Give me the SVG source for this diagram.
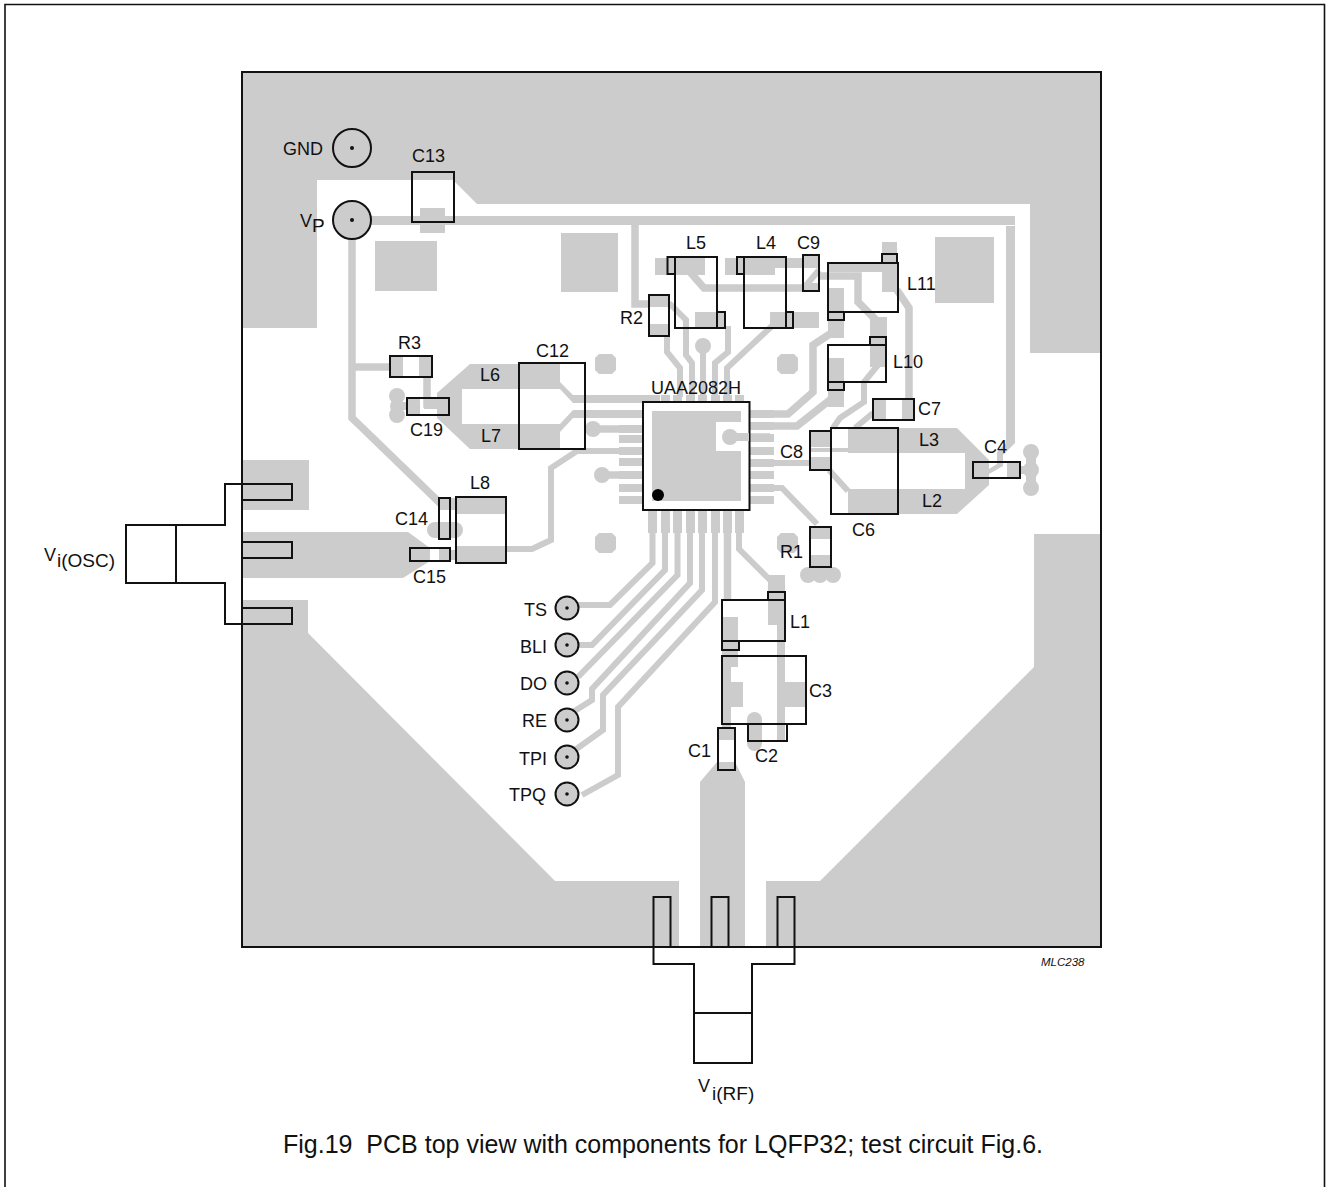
<svg xmlns="http://www.w3.org/2000/svg" width="1326" height="1187" viewBox="0 0 1326 1187">
<style>
.cu{fill:#ccc;stroke:none}
.tr{fill:none;stroke:#ccc;stroke-width:7.500;stroke-linejoin:miter}
.th{fill:none;stroke:#ccc;stroke-width:6}
.ol{fill:none;stroke:#111;stroke-width:2}
.ln{fill:none;stroke:#111;stroke-width:1.600}
.tp{fill:#ccc;stroke:#111;stroke-width:2}
text{font-family:"Liberation Sans",Arial,sans-serif;font-size:18px;fill:#111}
.sb{font-size:19px}
</style>
<rect width="1326" height="1187" fill="#fff"/>
<path class="ln" d="M5 1187V4.500H1324.500V1187"/>
<g id="copper">
<path class="cu" d="M243 73H1100V353H1030V204H477L453 180H317V328H243Z"/>
<path class="cu" d="M1034 534H1100V946H766V881H820L1034 667Z"/>
<path class="cu" d="M243 600H308V633L555 881H679V946H243Z"/>
<path class="cu" d="M700 946V782L717 762H735L745 782V946Z"/>
<rect class="cu" x="243" y="460" width="66" height="50"/>
<path class="cu" d="M243 532H408L430 548V561L403 578H243Z"/>
<rect class="cu" x="375" y="241" width="62" height="50"/>
<rect class="cu" x="561" y="233" width="57" height="59"/>
<rect class="cu" x="935" y="237" width="59" height="66"/>
<path class="cu" d="M356 216H1015V225H445V233H420V225H356Z"/>
<rect class="cu" x="420" y="208" width="25" height="10"/>
<path class="cu" d="M437 393L470 364H560V382L573 395H660V403H573L560 389H462V424H560L573 410H643V418H573L560 432V449H470L437 418Z"/>
<path class="cu" d="M848 428H957L989 460V485L957 514H848V489H965V453H848Z"/>
<rect class="cu" x="456" y="497" width="50" height="17"/>
<rect class="cu" x="456" y="546" width="50" height="17"/>
<rect class="cu" x="450" y="498" width="6" height="12"/>
<rect class="cu" x="450" y="550" width="6" height="10"/>
<rect class="cu" x="439" y="498" width="11" height="12"/>
<rect class="cu" x="439" y="548" width="11" height="13"/>
<rect class="cu" x="427" y="522" width="36" height="16" rx="8"/>
<rect class="cu" x="390" y="356" width="13" height="21"/>
<rect class="cu" x="419" y="356" width="13" height="21"/>
<rect class="cu" x="407" y="398" width="13" height="17"/>
<rect class="cu" x="424" y="401" width="25" height="8"/>
<rect class="cu" x="429" y="398" width="20" height="5"/>
<circle class="cu" cx="397" cy="396" r="8"/><circle class="cu" cx="397" cy="406" r="7"/><circle class="cu" cx="397" cy="415" r="8"/>
<rect class="cu" x="400" y="402" width="8" height="8"/>
<rect class="cu" x="655" y="258" width="50" height="17"/>
<rect class="cu" x="725" y="258" width="50" height="17"/>
<rect class="cu" x="775" y="258" width="44" height="10"/>
<rect class="cu" x="803" y="255" width="16" height="13"/>
<rect class="cu" x="695" y="312" width="30" height="16"/>
<rect class="cu" x="770" y="312" width="49" height="16"/>
<rect class="cu" x="649" y="295" width="20" height="12"/>
<rect class="cu" x="649" y="324" width="20" height="12"/>
<rect class="cu" x="803" y="283" width="16" height="8"/>
<rect class="cu" x="882" y="242" width="15" height="50"/>
<rect class="cu" x="828" y="263" width="69" height="9"/>
<rect class="cu" x="828" y="288" width="16" height="50"/>
<rect class="cu" x="828" y="358" width="16" height="49"/>
<rect class="cu" x="870" y="317" width="17" height="50"/>
<rect class="cu" x="873" y="399" width="13" height="21"/>
<rect class="cu" x="902" y="399" width="12" height="21"/>
<rect class="cu" x="810" y="431" width="21" height="16"/>
<rect class="cu" x="810" y="457" width="21" height="13"/>
<rect class="cu" x="810" y="448" width="38" height="4"/>
<rect class="cu" x="973" y="462" width="16" height="16"/>
<rect class="cu" x="1007" y="462" width="13" height="16"/>
<circle class="cu" cx="1031" cy="452" r="8"/><circle class="cu" cx="1031" cy="470" r="8"/><circle class="cu" cx="1031" cy="488" r="8"/>
<rect class="cu" x="1026" y="452" width="10" height="36"/>
<rect class="cu" x="1018" y="466" width="14" height="8"/>
<rect class="cu" x="810" y="527" width="21" height="12"/>
<rect class="cu" x="810" y="555" width="21" height="12"/>
<circle class="cu" cx="808" cy="575" r="8"/><circle class="cu" cx="820" cy="575" r="8"/><circle class="cu" cx="833" cy="575" r="8"/>
<rect class="cu" x="812" y="564" width="18" height="8"/>
<rect class="cu" x="768" y="575" width="17" height="50"/>
<rect class="cu" x="777" y="625" width="8" height="115"/>
<rect class="cu" x="777" y="682" width="29" height="25"/>
<rect class="cu" x="722" y="617" width="16" height="50"/>
<rect class="cu" x="722" y="657" width="9" height="71"/>
<rect class="cu" x="722" y="682" width="21" height="25"/>
<rect class="cu" x="718" y="728" width="17" height="12"/>
<rect class="cu" x="747" y="712" width="15" height="39" rx="7.500"/>
<path class="cu" d="M595 358L599 354H612L616 358V370L612 374H599L595 370Z"/>
<path class="cu" d="M777 358L781 354H794L798 358V370L794 374H781L777 370Z"/>
<path class="cu" d="M595 537L599 533H612L616 537V549L612 553H599L595 549Z"/>
<path class="cu" d="M777 537L781 533H794L798 537V549L794 553H781L777 549Z"/>
<g class="cu">
<rect x="619" y="410" width="24" height="8"/><rect x="619" y="425" width="24" height="8"/><rect x="619" y="435" width="24" height="8"/><rect x="619" y="447" width="24" height="8"/><rect x="619" y="458" width="24" height="8"/><rect x="619" y="471" width="24" height="8"/><rect x="619" y="484" width="24" height="8"/><rect x="619" y="496" width="24" height="8"/>
<rect x="749" y="410" width="25" height="8"/><rect x="749" y="422" width="25" height="8"/><rect x="749" y="434" width="25" height="8"/><rect x="749" y="447" width="25" height="8"/><rect x="749" y="459" width="25" height="8"/><rect x="749" y="471" width="25" height="8"/><rect x="749" y="484" width="25" height="8"/><rect x="749" y="496" width="25" height="8"/>
<rect x="648" y="510" width="9" height="23"/><rect x="661" y="510" width="9" height="23"/><rect x="673" y="510" width="9" height="23"/><rect x="686" y="510" width="9" height="23"/><rect x="698" y="510" width="9" height="23"/><rect x="711" y="510" width="9" height="23"/><rect x="723" y="510" width="9" height="23"/><rect x="735" y="510" width="9" height="23"/>
<rect x="648" y="395" width="9" height="8"/><rect x="661" y="395" width="9" height="8"/><rect x="673" y="395" width="9" height="8"/><rect x="686" y="395" width="9" height="8"/><rect x="698" y="395" width="9" height="8"/><rect x="711" y="395" width="9" height="8"/><rect x="723" y="395" width="9" height="8"/><rect x="735" y="395" width="9" height="8"/>
</g>
<circle class="cu" cx="593" cy="429" r="8"/><circle class="cu" cx="602" cy="475" r="8"/><circle class="cu" cx="703" cy="346" r="8"/>
</g>
<g id="connectors">
<path class="tr" d="M352 232V418L442 505"/>
<path class="tr" d="M352 367H390"/>
<path class="tr" d="M427 377V404H440"/>
<path class="tr" d="M635 225V304H650"/>
<path class="tr" d="M593 429H619"/>
<path class="tr" d="M602 475H619"/>
<path class="th" d="M643 451H577L551 468V540L532 549H506"/>
<path class="th" d="M667 336V352L680 368V397"/>
<path class="th" d="M669 303L686 320V355L692 363V397"/>
<path class="th" d="M703 346V397"/>
<path class="th" d="M728 326V352L715 363V397"/>
<path class="th" d="M772 326L727 368V397"/>
<path class="tr" d="M690 272L704 288H803"/>
<path class="th" d="M803 289L819 270"/>
<path class="tr" d="M819 276H858V302L878 322"/>
<path class="tr" d="M897 290L909 308V399"/>
<path class="tr" d="M770 414H788L813 392V345L836 330"/>
<path class="tr" d="M770 426H797L835 396"/>
<path class="tr" d="M730 437H770"/>
<path class="th" d="M878 365L864 382V402L840 418L833 428"/>
<path class="th" d="M873 413L855 428"/>
<path class="th" d="M770 463H812"/>
<path class="th" d="M829 470L848 491"/>
<path class="cu" d="M1006 226H1015V443L1003 455V466L989 474V469L997 464V452L1006 443Z"/>
<path class="th" d="M770 488H782L817 524"/>
<path class="th" d="M652.500 533V563L610 605H578"/>
<path class="th" d="M665 533V570L592 645H578"/>
<path class="th" d="M677.500 533V575L578 677"/>
<path class="th" d="M690 533V583L592 689V700L573 712"/>
<path class="th" d="M702 533V590L603 695V730L575 750"/>
<path class="th" d="M715 533V602L618 707V775L582 795"/>
<path class="tr" d="M727.500 533V600"/>
<path class="th" d="M739 533V549L772 582"/>
</g>
<g id="U1">
<rect x="643" y="402" width="106.500" height="108" fill="#fff" stroke="#111" stroke-width="2"/>
<path class="cu" d="M652 411H741V422H716V451H741V501H652Z"/>
<circle class="cu" cx="730" cy="437" r="8"/>
<rect class="cu" x="730" y="433" width="19" height="8"/>
<circle cx="658" cy="495" r="6" fill="#000"/>
<text x="651" y="394">UAA2082H</text>
</g>
<g id="GND"><circle class="ol" cx="352" cy="148" r="19"/><circle cx="352" cy="148" r="2" fill="#111"/><text x="283" y="155">GND</text></g>
<g id="VP"><circle class="tp" cx="352" cy="220" r="19"/><circle cx="352" cy="220" r="2" fill="#111"/><text x="300" y="227">V</text><text class="sb" x="312" y="232">P</text></g>
<g id="C13"><rect class="ol" x="412" y="172" width="42" height="50"/><text x="412" y="162">C13</text></g>
<g id="R3"><rect class="ol" x="390" y="356" width="42" height="21"/><text x="398" y="349">R3</text></g>
<g id="C19"><rect class="ol" x="407" y="398" width="42" height="17"/><text x="410" y="436">C19</text></g>
<g id="C12"><rect class="ol" x="519" y="363" width="66" height="86"/><text x="536" y="357">C12</text></g>
<g id="L6"><text x="480" y="381">L6</text></g>
<g id="L7"><text x="481" y="442">L7</text></g>
<g id="L8"><rect class="ol" x="456" y="497" width="50" height="66"/><text x="470" y="489">L8</text></g>
<g id="C14"><rect class="ol" x="439" y="498" width="11" height="41"/><text x="395" y="525">C14</text></g>
<g id="C15"><rect class="ol" x="410" y="548" width="40" height="13"/><text x="413" y="583">C15</text></g>
<g id="R2"><rect class="ol" x="649" y="295" width="20" height="41"/><text x="620" y="324">R2</text></g>
<g id="L5"><rect class="ol" x="675" y="257" width="42" height="71"/><rect class="ol" x="667.500" y="257" width="7.500" height="17"/><rect class="ol" x="717" y="312" width="8" height="16"/><text x="686" y="249">L5</text></g>
<g id="L4"><rect class="ol" x="744" y="257" width="42" height="71"/><rect class="ol" x="737" y="257" width="7" height="17"/><rect class="ol" x="786" y="312" width="7" height="16"/><text x="756" y="249">L4</text></g>
<g id="C9"><rect class="ol" x="803" y="255" width="16" height="36"/><text x="797" y="249">C9</text></g>
<g id="L11"><rect class="ol" x="828" y="263" width="70" height="49"/><rect class="ol" x="882" y="254" width="15" height="9"/><rect class="ol" x="828" y="312" width="16" height="8"/><text x="907" y="290">L11</text></g>
<g id="L10"><rect class="ol" x="828" y="345" width="58" height="37"/><rect class="ol" x="870" y="337" width="16" height="8"/><rect class="ol" x="828" y="382" width="16" height="8"/><text x="893" y="368">L10</text></g>
<g id="C7"><rect class="ol" x="873" y="399" width="41" height="21"/><text x="918" y="415">C7</text></g>
<g id="C8"><rect class="ol" x="810" y="431" width="21" height="39"/><text x="780" y="458">C8</text></g>
<g id="C6"><rect class="ol" x="831" y="428" width="67" height="86"/><text x="852" y="536">C6</text></g>
<g id="L3"><text x="919" y="446">L3</text></g>
<g id="L2"><text x="922" y="507">L2</text></g>
<g id="C4"><rect class="ol" x="973" y="462" width="47" height="16"/><text x="984" y="453">C4</text></g>
<g id="R1"><rect class="ol" x="810" y="527" width="21" height="40"/><text x="780" y="558">R1</text></g>
<g id="L1"><rect class="ol" x="722" y="600" width="63" height="41"/><rect class="ol" x="768" y="592" width="17" height="8"/><rect class="ol" x="722" y="641" width="17" height="9"/><text x="790" y="628">L1</text></g>
<g id="C3"><rect class="ol" x="722" y="656" width="84" height="68"/><text x="809" y="697">C3</text></g>
<g id="C2"><rect class="ol" x="748" y="724" width="39" height="17"/><text x="755" y="762">C2</text></g>
<g id="C1"><rect class="ol" x="718" y="728" width="17" height="42"/><text x="688" y="757">C1</text></g>
<g id="TS"><circle class="tp" cx="567" cy="608" r="11.500"/><circle cx="567" cy="608" r="1.800" fill="#111"/><text x="524" y="616">TS</text></g>
<g id="BLI"><circle class="tp" cx="567" cy="645" r="11.500"/><circle cx="567" cy="645" r="1.800" fill="#111"/><text x="520" y="653">BLI</text></g>
<g id="DO"><circle class="tp" cx="567" cy="683" r="11.500"/><circle cx="567" cy="683" r="1.800" fill="#111"/><text x="520" y="690">DO</text></g>
<g id="RE"><circle class="tp" cx="567" cy="720" r="11.500"/><circle cx="567" cy="720" r="1.800" fill="#111"/><text x="522" y="727">RE</text></g>
<g id="TPI"><circle class="tp" cx="567" cy="757" r="11.500"/><circle cx="567" cy="757" r="1.800" fill="#111"/><text x="519" y="765">TPI</text></g>
<g id="TPQ"><circle class="tp" cx="567" cy="794" r="11.500"/><circle cx="567" cy="794" r="1.800" fill="#111"/><text x="509" y="801">TPQ</text></g>
<g id="osc">
<rect class="ol" x="242" y="484" width="50" height="16"/><rect class="ol" x="242" y="542" width="50" height="16"/><rect class="ol" x="242" y="608" width="50" height="16"/>
<path class="ol" d="M242 484H225V525H126V583H225V624H242M176 525V583"/>
<text x="44" y="561">V</text><text class="sb" x="57" y="567">i(OSC)</text>
</g>
<g id="rf">
<rect class="ol" x="653.500" y="897" width="17" height="50"/><rect class="ol" x="711.500" y="897" width="17" height="50"/><rect class="ol" x="777.500" y="897" width="17" height="50"/>
<path class="ol" d="M653.500 947V964H694V1063H752V964H794.500V947M694 1013H752"/>
<text x="698" y="1092">V</text><text class="sb" x="712" y="1100">i(RF)</text>
</g>
<rect x="242" y="72" width="859" height="875" fill="none" stroke="#111" stroke-width="2"/>
<text x="1041" y="966" style="font-size:11.500px;font-style:italic">MLC238</text>
<text x="283" y="1153" xml:space="preserve" style="font-size:25px">Fig.19  PCB top view with components for LQFP32; test circuit Fig.6.</text>
</svg>
